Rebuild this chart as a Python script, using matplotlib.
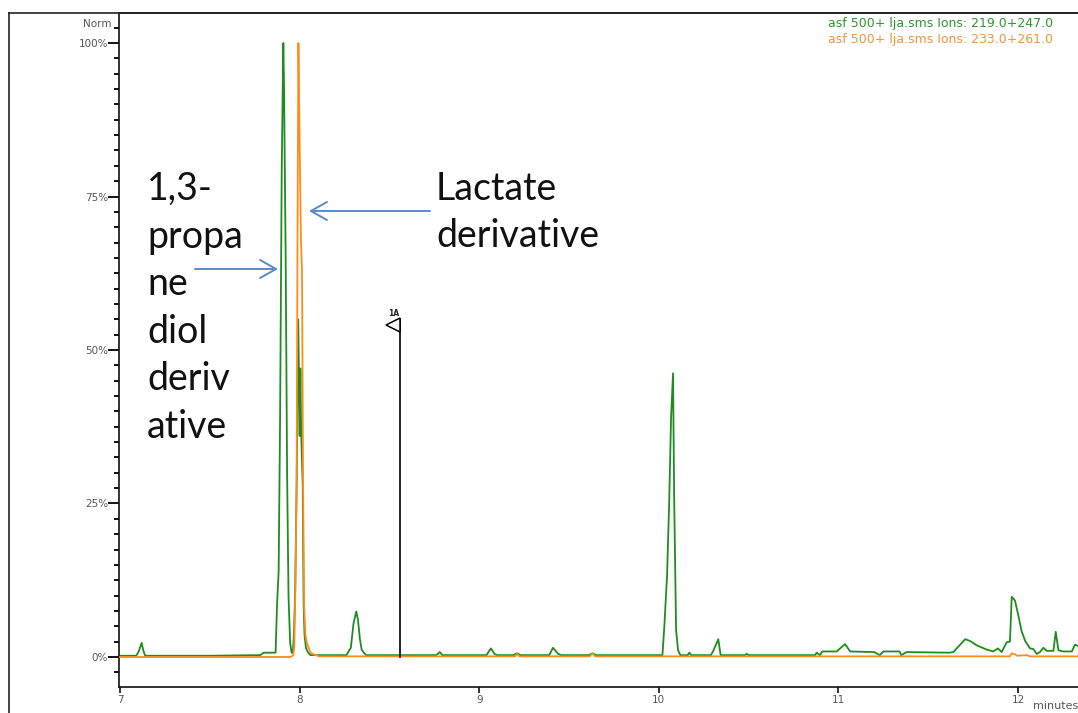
import matplotlib
matplotlib.use("Agg")
import matplotlib.pyplot as plt
from matplotlib.lines import Line2D
from matplotlib.ticker import MultipleLocator, FixedLocator
import matplotlib.transforms as mtransforms

# trace 1: ions 219+247 (green), trace 2: ions 233+261 (orange)
green_t = [7.000, 7.090, 7.105, 7.120, 7.130, 7.140, 7.500, 7.780, 7.800, 7.855,
           7.866, 7.874, 7.883, 7.891, 7.900, 7.909, 7.913, 7.917, 7.922, 7.930,
           7.938, 7.947, 7.955, 7.962, 7.968, 7.975, 7.983, 7.992, 8.000, 8.004,
           8.009, 8.017, 8.022, 8.027, 8.035, 8.045, 8.060, 8.260, 8.285, 8.300,
           8.315, 8.325, 8.335, 8.345, 8.355, 8.370, 8.760, 8.780, 8.795, 9.040,
           9.065, 9.085, 9.100, 9.190, 9.210, 9.230, 9.390, 9.410, 9.440, 9.455,
           9.610, 9.630, 9.650, 10.020, 10.031, 10.046, 10.057, 10.068, 10.079, 10.085,
           10.096, 10.107, 10.120, 10.160, 10.170, 10.180, 10.290, 10.303, 10.331, 10.344,
           10.480, 10.489, 10.500, 10.870, 10.879, 10.897, 10.910, 10.990, 11.037, 11.065,
           11.200, 11.230, 11.250, 11.340, 11.350, 11.380, 11.620, 11.640, 11.706, 11.733,
           11.770, 11.826, 11.862, 11.888, 11.909, 11.937, 11.955, 11.965, 11.983, 12.000,
           12.020, 12.040, 12.067, 12.085, 12.104, 12.122, 12.141, 12.160, 12.197, 12.210,
           12.225, 12.250, 12.300, 12.317, 12.334]
green_y = [0.2, 0.2, 1.0, 2.3, 1.0, 0.2, 0.2, 0.3, 0.7, 0.7,
           0.7, 8.5, 14.0, 39.0, 79.0, 100.0, 93.0, 80.0, 65.5, 30.0,
           9.8, 2.3, 0.7, 0.7, 3.6, 10.8, 27.8, 55.0, 36.0, 47.0,
           36.0, 28.0, 8.5, 3.6, 1.5, 0.8, 0.3, 0.3, 1.5, 5.5,
           7.4, 6.0, 3.0, 1.2, 0.8, 0.3, 0.3, 0.8, 0.3, 0.3,
           1.4, 0.5, 0.3, 0.3, 0.6, 0.3, 0.3, 1.5, 0.5, 0.3,
           0.3, 0.6, 0.3, 0.3, 5.2, 13.4, 24.5, 38.9, 46.2, 26.7,
           4.4, 1.1, 0.3, 0.3, 0.7, 0.3, 0.3, 1.0, 2.9, 0.3,
           0.3, 0.5, 0.3, 0.3, 0.7, 0.3, 0.9, 0.9, 2.1, 0.9,
           0.8, 0.3, 0.9, 0.9, 0.3, 0.8, 0.7, 0.8, 2.9, 2.6,
           1.9, 1.2, 0.9, 1.4, 0.8, 2.4, 2.5, 9.8, 9.2, 7.0,
           4.2, 2.6, 1.4, 1.3, 0.5, 0.8, 1.5, 1.0, 1.0, 4.1,
           1.1, 0.9, 0.9, 2.0, 1.8]

orange_t = [7.000, 7.950, 7.964, 7.970, 7.976, 7.983, 7.988, 7.993, 7.998, 8.007,
            8.013, 8.019, 8.025, 8.032, 8.040, 8.050, 8.060, 8.080, 8.110, 9.200,
            9.210, 9.225, 9.615, 9.630, 9.645, 11.955, 11.965, 11.985, 11.995, 12.050,
            12.065, 12.334]
orange_y = [0.0, 0.0, 0.3, 1.6, 10.8, 27.8, 68.0, 100.0, 88.0, 68.0,
            63.0, 28.5, 8.2, 3.6, 2.3, 1.5, 0.7, 0.4, 0.1, 0.1,
            0.5, 0.1, 0.1, 0.6, 0.1, 0.1, 0.6, 0.4, 0.2, 0.3,
            0.1, 0.1]

trace_labels = ["asf 500+ lja.sms Ions: 219.0+247.0",
                "asf 500+ lja.sms Ions: 233.0+261.0"]
y_ticks = [0, 25, 50, 75, 100]
y_ticklabels = ["0%", "25%", "50%", "75%", "100%"]
x_ticks = [7, 8, 9, 10, 11, 12]

marker_time = 8.56
marker_height = 55.1
marker_label = "1A"

propanediol_lines = ["1,3-", "propa", "ne", "diol", "deriv", "ative"]
lactate_lines = ["Lactate", "derivative"]

GREEN = "#1f8c1f"
ORANGE = "#ff8c1a"
ARROW = "#5a8ac6"
TICKGRAY = "#555555"

W, H = 1078, 713


def fx(px):
    return px / W


def fy(py):
    return 1 - py / H


fig = plt.figure(figsize=(W / 100, H / 100), dpi=100)
fig.patch.set_facecolor("white")

ax = fig.add_axes([fx(119), fy(687), 1 - fx(119), (687 - 13) / H])
ax.plot(green_t, green_y, color=GREEN, lw=1.3, zorder=2)
ax.plot(orange_t, orange_y, color=ORANGE, lw=1.3, zorder=3)

ax.set_xlim(6.994, 12.334)
ax.set_ylim(-4.89, 104.89)

ax.spines["right"].set_visible(False)
for s in ["left", "bottom", "top"]:
    ax.spines[s].set_color("#111111")
    ax.spines[s].set_linewidth(1.2)

ax.yaxis.set_major_locator(FixedLocator(y_ticks))
ax.set_yticklabels(y_ticklabels)
ax.yaxis.set_minor_locator(MultipleLocator(2.5))
ax.tick_params(axis="y", which="major", length=8, width=1.4, direction="out",
               pad=0, labelsize=7.5, labelcolor=TICKGRAY, color="#111111")
ax.tick_params(axis="y", which="minor", length=3.5, width=1.4, direction="out",
               color="#111111")
ax.set_xticks(x_ticks)
ax.set_xticklabels([str(v) for v in x_ticks])
ax.tick_params(axis="x", which="major", length=4.5, width=1.2, direction="out",
               pad=1.5, labelsize=7.5, labelcolor=TICKGRAY, color="#111111")

# event marker 1A
ax.plot([marker_time, marker_time], [0, marker_height], color="black", lw=1.2, zorder=4)
flag_tr = ax.transData + mtransforms.ScaledTranslation(-5.2 / 72, -4.3 / 72, fig.dpi_scale_trans)
ax.plot([marker_time], [marker_height], marker="<", markersize=10, mfc="white",
        mec="black", mew=1.1, transform=flag_tr, zorder=5)
ax.annotate(marker_label, (marker_time, marker_height), xytext=(-4.5, 4),
            textcoords="offset points", ha="center", va="center", fontsize=5.5,
            color="#222222", fontweight="bold")

# outer frame
fig.add_artist(Line2D([fx(9), fx(9)], [fy(13), 0], color="#222222", lw=1.2))
fig.add_artist(Line2D([fx(9), 1], [fy(13), fy(13)], color="#222222", lw=1.2))

fig.text(fx(111), fy(24), "Norm", ha="right", va="center", fontsize=7.5, color=TICKGRAY)
fig.text(fx(1033), fy(706), "minutes", ha="left", va="center", fontsize=8, color=TICKGRAY)

fig.text(fx(1053), fy(23), trace_labels[0], ha="right", va="center", fontsize=9, color="#2e962e")
fig.text(fx(1053), fy(40), trace_labels[1], ha="right", va="center", fontsize=9, color="#f5923a")

# callouts
for i, line in enumerate(propanediol_lines):
    fig.text(fx(147), fy(200 + i * 47.6), line, ha="left", va="baseline",
             fontsize=27, family="Lato", color="#111111")
for i, line in enumerate(lactate_lines):
    fig.text(fx(436), fy(200 + i * 47.3), line, ha="left", va="baseline",
             fontsize=27, family="Lato", color="#111111")

arrow_style = "->,head_length=1.15,head_width=0.65"
ax.annotate("", xy=(fx(309), fy(211)), xycoords="figure fraction",
            xytext=(fx(430), fy(211)), textcoords="figure fraction",
            arrowprops=dict(arrowstyle=arrow_style, color=ARROW, lw=1.4,
                            shrinkA=0, shrinkB=0, mutation_scale=10))
ax.annotate("", xy=(fx(278), fy(269)), xycoords="figure fraction",
            xytext=(fx(195), fy(269)), textcoords="figure fraction",
            arrowprops=dict(arrowstyle=arrow_style, color=ARROW, lw=1.4,
                            shrinkA=0, shrinkB=0, mutation_scale=10))

fig.savefig("out.png", dpi=100)
